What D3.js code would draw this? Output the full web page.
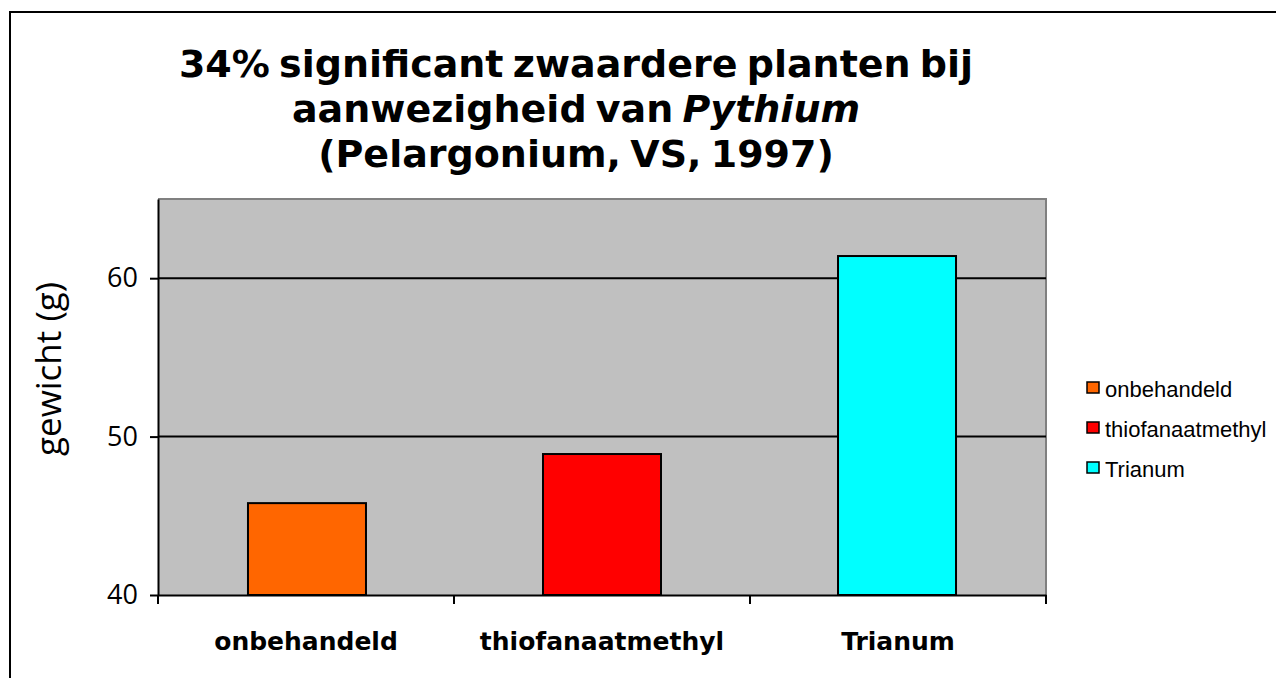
<!DOCTYPE html>
<html>
<head>
<meta charset="utf-8">
<script src="https://cdn.jsdelivr.net/npm/d3@7"></script>
<style>
  html, body { margin: 0; padding: 0; background: #fff; }
  svg { display: block; }
</style>
</head>
<body>
<svg id="chart" width="1276" height="678"></svg>
<script>
const categories = ["onbehandeld", "thiofanaatmethyl", "Trianum"];
const values = [45.8, 48.9, 61.4];
const colors = ["#FF6600", "#FF0000", "#00FFFF"];
const yTicks = [40, 50, 60];
const yDomain = [40, 65];
const titleLines = [
  [{t: "34% significant zwaardere planten bij"}],
  [{t: "aanwezigheid van "}, {t: "Pythium", i: true}],
  [{t: "(Pelargonium, VS, 1997)"}]
];
const yLabel = "gewicht (g)";

const svg = d3.select("#chart");
const M = {left: 158, right: 1046, top: 199, bottom: 595};

// outer border
svg.append("rect").attr("x", 10).attr("y", 12).attr("width", 1300).attr("height", 700)
  .attr("fill", "#fff").attr("stroke", "#000").attr("stroke-width", 2);

const x = d3.scaleBand().domain(categories).range([M.left, M.right]).paddingInner(0.6).paddingOuter(0.305);
const xb = d3.scaleBand().domain(categories).range([M.left, M.right]);
const y = d3.scaleLinear().domain(yDomain).range([M.bottom, M.top]);

// plot area
svg.append("rect").attr("x", M.left).attr("y", M.top)
  .attr("width", M.right - M.left).attr("height", M.bottom - M.top)
  .attr("fill", "#C0C0C0");
svg.append("path")
  .attr("d", `M${M.left},${M.top}H${M.right}V${M.bottom}`)
  .attr("fill", "none").attr("stroke", "#808080").attr("stroke-width", 2);

// gridlines
svg.append("g").selectAll("line").data(yTicks.filter(d => d > yDomain[0])).join("line")
  .attr("x1", M.left).attr("x2", M.right)
  .attr("y1", d => y(d)).attr("y2", d => y(d))
  .attr("stroke", "#000").attr("stroke-width", 2);

// bars
svg.append("g").selectAll("rect").data(values).join("rect")
  .attr("x", (d, i) => x(categories[i]))
  .attr("y", d => y(d))
  .attr("width", x.bandwidth())
  .attr("height", d => y(yDomain[0]) - y(d))
  .attr("fill", (d, i) => colors[i])
  .attr("stroke", "#000").attr("stroke-width", 2);

// y axis
const yAxis = d3.axisLeft(y).tickValues(yTicks).tickSizeInner(8).tickSizeOuter(0).tickPadding(12).tickFormat(d3.format("d"));
const gy = svg.append("g").attr("transform", `translate(${M.left},0)`).call(yAxis);
gy.select(".domain").attr("stroke", "#000").attr("stroke-width", 2);
gy.selectAll(".tick line").attr("stroke", "#000").attr("stroke-width", 2);
gy.selectAll(".tick text").attr("font-family", "'Open Sans', sans-serif").attr("font-size", 27).attr("fill", "#000");

// x axis
const xAxis = d3.axisBottom(xb).tickSize(0).tickPadding(37);
const gx = svg.append("g").attr("transform", `translate(0,${M.bottom})`).call(xAxis);
gx.select(".domain").attr("stroke", "#000").attr("stroke-width", 2);
gx.selectAll(".tick text").attr("font-family", "'DejaVu Sans', sans-serif")
  .attr("font-weight", "bold").attr("font-size", 25).attr("fill", "#000");
// category boundary ticks
const bounds = categories.map(c => xb(c)).concat([xb(categories[categories.length - 1]) + xb.bandwidth()]);
gx.append("g").selectAll("line").data(bounds).join("line")
  .attr("x1", d => d).attr("x2", d => d).attr("y1", 0).attr("y2", 9)
  .attr("stroke", "#000").attr("stroke-width", 2);

// y label
svg.append("text")
  .attr("transform", "translate(61,369) rotate(-90)")
  .attr("text-anchor", "middle")
  .attr("font-family", "'Open Sans', sans-serif").attr("font-size", 35)
  .attr("fill", "#000").text(yLabel);

// title
const title = svg.append("text").attr("text-anchor", "middle")
  .attr("font-family", "'DejaVu Sans', sans-serif").attr("font-weight", "bold")
  .attr("font-size", 38).attr("word-spacing", -4).attr("fill", "#000");
titleLines.forEach((line, li) => {
  line.forEach((seg, si) => {
    const ts = title.append("tspan").text(seg.t);
    if (si === 0) ts.attr("x", 576).attr("y", 77 + li * 45);
    if (seg.i) ts.attr("font-style", "italic");
  });
});

// legend
const lg = svg.append("g");
categories.forEach((c, i) => {
  const yy = 382 + i * 40;
  lg.append("rect").attr("x", 1087).attr("y", yy).attr("width", 12).attr("height", 11)
    .attr("fill", colors[i]).attr("stroke", "#000").attr("stroke-width", 1.5);
  lg.append("text").attr("x", 1105).attr("y", yy + 15)
    .attr("font-family", "'Liberation Sans', Arial, sans-serif").attr("font-size", 22)
    .attr("fill", "#000").text(c);
});
</script>
</body>
</html>
